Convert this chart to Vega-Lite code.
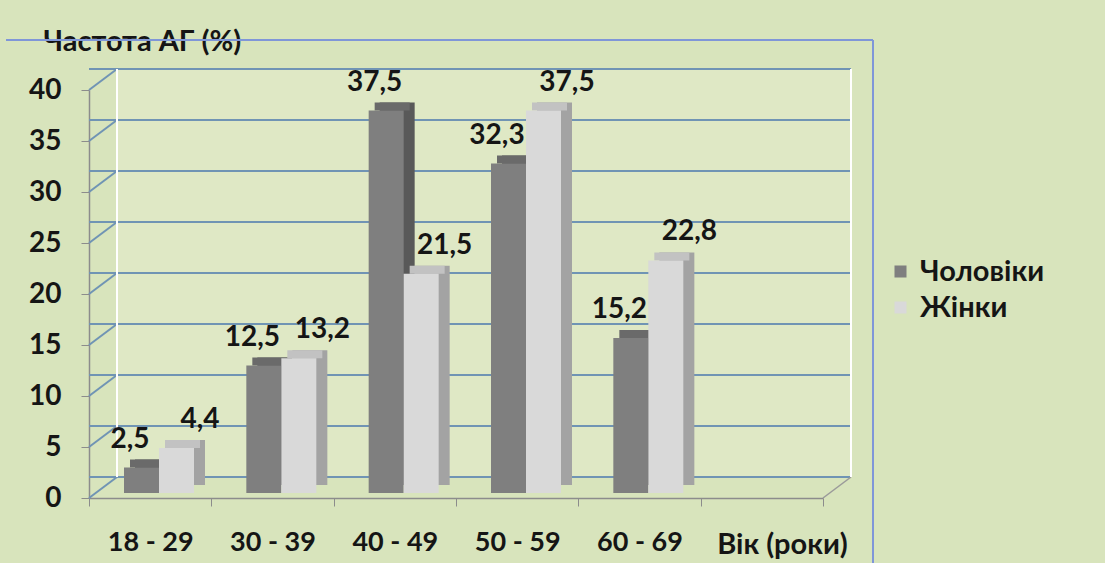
{
  "$schema": "https://vega.github.io/schema/vega-lite/v6.json",
  "width": 734,
  "height": 408,
  "autosize": {"type": "none"},
  "padding": {"left": 89, "top": 90, "right": 282, "bottom": 65},
  "background": "#d8e4bc",
  "config": {
    "view": {"stroke": null},
    "font": "Lato",
    "locale": {"number": {"decimal": ",", "thousands": " ", "grouping": [3], "currency": ["", ""]}},
    "axis": {
      "grid": false,
      "labelFont": "Lato",
      "labelFontWeight": "bold",
      "labelColor": "#151515",
      "titleFont": "Lato",
      "titleFontWeight": "bold",
      "titleColor": "#151515",
      "domainColor": "#8c8c8c",
      "domainWidth": 1.5,
      "tickColor": "#8c8c8c",
      "tickSize": 8
    }
  },
  "datasets": {
    "bars": [
      {"grp": "18 - 29", "sex": "Чоловіки", "val": 2.5},
      {"grp": "18 - 29", "sex": "Жінки", "val": 4.4},
      {"grp": "30 - 39", "sex": "Чоловіки", "val": 12.5},
      {"grp": "30 - 39", "sex": "Жінки", "val": 13.2},
      {"grp": "40 - 49", "sex": "Чоловіки", "val": 37.5},
      {"grp": "40 - 49", "sex": "Жінки", "val": 21.5},
      {"grp": "50 - 59", "sex": "Чоловіки", "val": 32.3},
      {"grp": "50 - 59", "sex": "Жінки", "val": 37.5},
      {"grp": "60 - 69", "sex": "Чоловіки", "val": 15.2},
      {"grp": "60 - 69", "sex": "Жінки", "val": 22.8}
    ],
    "grid": [
      {"v": 0}, {"v": 5}, {"v": 10}, {"v": 15}, {"v": 20},
      {"v": 25}, {"v": 30}, {"v": 35}, {"v": 40}
    ]
  },
  "resolve": {
    "scale": {"xOffset": "independent"},
    "axis": {"x": "independent", "y": "independent"}
  },
  "layer": [
    {
      "description": "back wall fill",
      "data": {"name": "grid"},
      "transform": [{"filter": "datum.v == 0"}],
      "mark": {"type": "rect", "fill": "#dfe8c5", "xOffset": 28, "x2Offset": 28, "yOffset": -21, "y2Offset": -21},
      "encoding": {
        "x": {"datum": "18 - 29", "type": "nominal", "bandPosition": 0, "axis": null},
        "x2": {"datum": " ", "bandPosition": 1},
        "y": {"datum": 0, "type": "quantitative", "scale": {"domain": [0, 40], "nice": false}, "axis": null},
        "y2": {"datum": 40}
      }
    },
    {
      "description": "gridlines on the back wall",
      "data": {"name": "grid"},
      "mark": {"type": "rule", "stroke": "#7094b4", "strokeWidth": 2, "xOffset": 28, "x2Offset": 28, "yOffset": -21},
      "encoding": {
        "y": {"field": "v", "type": "quantitative", "axis": null}
      }
    },
    {
      "description": "side-wall diagonals joining the axis to the back wall",
      "data": {"name": "grid"},
      "mark": {"type": "rule", "stroke": "#7094b4", "strokeWidth": 2, "x2Offset": 28, "y2Offset": -21},
      "encoding": {
        "x": {"datum": "18 - 29", "type": "nominal", "bandPosition": 0, "axis": null},
        "x2": {"datum": "18 - 29", "bandPosition": 0},
        "y": {"field": "v", "type": "quantitative", "axis": null},
        "y2": {"field": "v"}
      }
    },
    {
      "description": "floor edge on the right",
      "data": {"name": "grid"},
      "transform": [{"filter": "datum.v == 0"}],
      "mark": {"type": "rule", "stroke": "#9a9a9a", "strokeWidth": 1.5, "x2Offset": 28, "y2Offset": -21},
      "encoding": {
        "x": {"datum": " ", "type": "nominal", "bandPosition": 1, "axis": null},
        "x2": {"datum": " ", "bandPosition": 1},
        "y": {"datum": 0, "type": "quantitative", "axis": null},
        "y2": {"datum": 0}
      }
    },
    {
      "description": "left edge of the back wall",
      "data": {"name": "grid"},
      "transform": [{"filter": "datum.v == 0"}],
      "mark": {"type": "rule", "stroke": "#ffffff", "strokeWidth": 2, "xOffset": 28, "yOffset": -21, "y2Offset": -21},
      "encoding": {
        "x": {"datum": "18 - 29", "type": "nominal", "bandPosition": 0, "axis": null},
        "y": {"datum": 0, "type": "quantitative", "axis": null},
        "y2": {"datum": 40}
      }
    },
    {
      "description": "right edge of the back wall",
      "data": {"name": "grid"},
      "transform": [{"filter": "datum.v == 0"}],
      "mark": {"type": "rule", "stroke": "#ffffff", "strokeWidth": 2, "xOffset": 28, "yOffset": -21, "y2Offset": -21},
      "encoding": {
        "x": {"datum": " ", "type": "nominal", "bandPosition": 1, "axis": null},
        "y": {"datum": 0, "type": "quantitative", "axis": null},
        "y2": {"datum": 40}
      }
    },
    {
      "description": "plot-area frame, top edge",
      "data": {"name": "grid"},
      "transform": [{"filter": "datum.v == 0"}],
      "mark": {"type": "rule", "stroke": "#7f96d8", "strokeWidth": 2, "xOffset": -83, "x2Offset": 50, "yOffset": -50},
      "encoding": {
        "x": {"datum": "18 - 29", "type": "nominal", "bandPosition": 0, "axis": null},
        "x2": {"datum": " ", "bandPosition": 1},
        "y": {"datum": 40, "type": "quantitative", "axis": null}
      }
    },
    {
      "description": "plot-area frame, right edge",
      "data": {"name": "grid"},
      "transform": [{"filter": "datum.v == 0"}],
      "mark": {"type": "rule", "stroke": "#7f96d8", "strokeWidth": 2, "xOffset": 50, "yOffset": -50, "y2Offset": 70},
      "encoding": {
        "x": {"datum": " ", "type": "nominal", "bandPosition": 1, "axis": null},
        "y": {"datum": 40, "type": "quantitative", "axis": null},
        "y2": {"datum": 0}
      }
    },
    {
      "description": "column depth: side faces",
      "data": {"name": "bars"},
      "mark": {"type": "bar", "yOffset": -13, "y2Offset": -13},
      "encoding": {
        "x": {"field": "grp", "type": "nominal", "axis": null},
        "xOffset": {"field": "sex", "type": "nominal", "sort": ["Чоловіки", "Жінки"], "scale": {"range": [46, 116], "paddingInner": 0, "paddingOuter": 0}},
        "y": {"field": "val", "type": "quantitative", "axis": null},
        "y2": {"datum": 0},
        "fill": {"condition": {"test": "datum.sex === 'Чоловіки'", "value": "#595959"}, "value": "#a3a3a3"}
      }
    },
    {
      "description": "column depth: top faces",
      "data": {"name": "bars"},
      "mark": {"type": "bar", "yOffset": -13, "y2Offset": -5},
      "encoding": {
        "x": {"field": "grp", "type": "nominal", "axis": null},
        "xOffset": {"field": "sex", "type": "nominal", "sort": ["Чоловіки", "Жінки"], "scale": {"range": [41, 111], "paddingInner": 0, "paddingOuter": 0}},
        "y": {"field": "val", "type": "quantitative", "axis": null},
        "y2": {"field": "val"},
        "fill": {"condition": {"test": "datum.sex === 'Чоловіки'", "value": "#6a6a6a"}, "value": "#c2c2c2"}
      }
    },
    {
      "description": "column front faces, with both axes and the legend",
      "data": {"name": "bars"},
      "mark": {"type": "bar", "yOffset": -5, "y2Offset": -5},
      "encoding": {
        "x": {
          "field": "grp",
          "type": "nominal",
          "scale": {"domain": ["18 - 29", "30 - 39", "40 - 49", "50 - 59", "60 - 69", " "], "paddingInner": 0, "paddingOuter": 0},
          "axis": {
            "orient": "bottom",
            "title": "Вік (роки)",
            "titleX": 693,
            "titleY": 55,
            "titleAlign": "center",
            "titleBaseline": "alphabetic",
            "titleFontSize": 29,
            "labelFontSize": 27,
            "labelAngle": 0,
            "labelBaseline": "alphabetic",
            "labelPadding": 44,
            "tickBand": "extent"
          }
        },
        "xOffset": {"field": "sex", "type": "nominal", "sort": ["Чоловіки", "Жінки"], "scale": {"range": [35, 105], "paddingInner": 0, "paddingOuter": 0}},
        "y": {
          "field": "val",
          "type": "quantitative",
          "axis": {
            "orient": "left",
            "values": [0, 5, 10, 15, 20, 25, 30, 35, 40],
            "title": "Частота АГ (%)",
            "titleAngle": 0,
            "titleAlign": "left",
            "titleBaseline": "alphabetic",
            "titleX": -46,
            "titleY": -40,
            "titleFontSize": 29,
            "labelFontSize": 28,
            "labelPadding": 20
          }
        },
        "y2": {"datum": 0},
        "color": {
          "field": "sex",
          "type": "nominal",
          "scale": {"domain": ["Чоловіки", "Жінки"], "range": ["#7f7f7f", "#d9d9d9"]},
          "legend": {
            "orient": "none",
            "legendX": 797,
            "legendY": 167,
            "title": null,
            "padding": 0,
            "symbolType": "square",
            "symbolSize": 144,
            "symbolStrokeWidth": 0,
            "labelFont": "Lato",
            "labelFontSize": 29,
            "labelFontWeight": "bold",
            "labelColor": "#151515",
            "labelOffset": 5,
            "rowPadding": 6
          }
        }
      }
    },
    {
      "description": "value labels",
      "data": {"name": "bars"},
      "mark": {"type": "text", "dx": 6, "dy": -25, "baseline": "alphabetic", "align": "center", "font": "Lato", "fontSize": 28, "fontWeight": "bold", "color": "#151515"},
      "encoding": {
        "x": {"field": "grp", "type": "nominal", "axis": null},
        "xOffset": {"field": "sex", "type": "nominal", "sort": ["Чоловіки", "Жінки"], "scale": {"range": [35, 105], "paddingInner": 0, "paddingOuter": 0}},
        "y": {"field": "val", "type": "quantitative", "axis": null},
        "text": {"field": "val", "type": "quantitative", "format": ".1f"}
      }
    }
  ]
}
